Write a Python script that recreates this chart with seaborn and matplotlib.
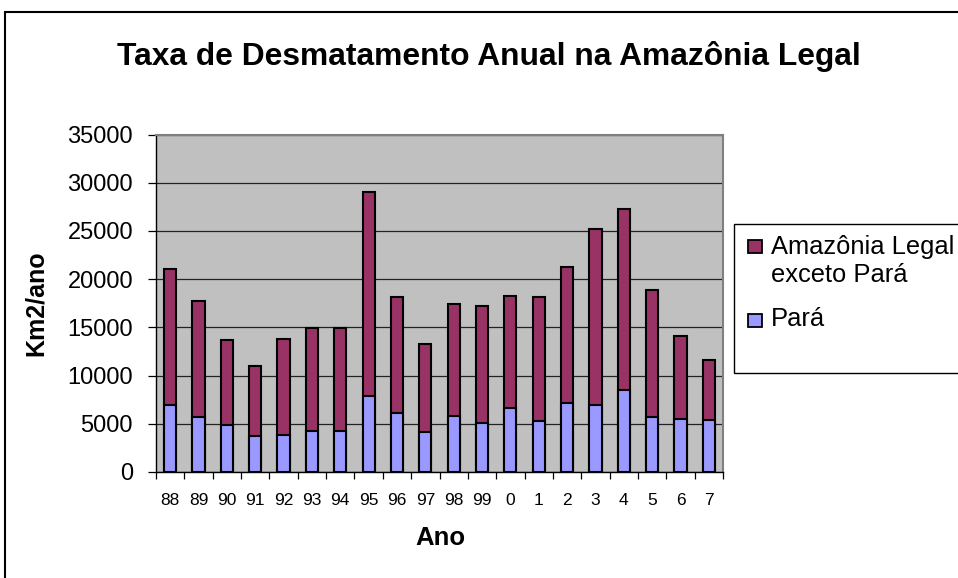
import numpy as np
import pandas as pd
import matplotlib
matplotlib.use("Agg")
import matplotlib.pyplot as plt
from matplotlib.patches import Rectangle
from matplotlib.ticker import FixedLocator, NullFormatter, FixedFormatter
import seaborn as sns

# ---- data (km2/ano) ----
anos = ["88", "89", "90", "91", "92", "93", "94", "95", "96", "97",
        "98", "99", "0", "1", "2", "3", "4", "5", "6", "7"]
para = [6990, 5750, 4890, 3780, 3790, 4280, 4280, 7850, 6140, 4140,
        5830, 5110, 6670, 5240, 7200, 7000, 8470, 5700, 5540, 5360]
resto = [14060, 12020, 8840, 7250, 10000, 10620, 10620, 21210, 12020, 9090,
         11550, 12150, 11560, 12930, 14060, 18240, 18800, 13140, 8530, 6220]
serie_resto = "Amazônia Legal\nexceto Pará"
serie_para = "Pará"
titulo = "Taxa de Desmatamento Anual na Amazônia Legal"
yticks = [0, 5000, 10000, 15000, 20000, 25000, 30000, 35000]

C_RESTO = "#993366"
C_PARA = "#9999FF"
C_BG = "#C0C0C0"

sns.set_theme(style="white")
plt.rcParams["font.family"] = ["Liberation Sans", "DejaVu Sans"]
plt.rcParams["text.color"] = "black"
plt.rcParams["axes.labelcolor"] = "black"
plt.rcParams["xtick.color"] = "black"
plt.rcParams["ytick.color"] = "black"

df = pd.DataFrame({"Ano": anos, "Para": para, "Resto": resto})
df["Total"] = df["Para"] + df["Resto"]

W, H = 958, 578
fig = plt.figure(figsize=(W / 100, H / 100), dpi=100)
L, R, T, B = 156, 723, 134.5, 472
ax = fig.add_axes([L / W, 1 - B / H, (R - L) / W, (B - T) / H])
ax.set_facecolor(C_BG)

bw = 0.43
sns.barplot(data=df, x="Ano", y="Total", order=anos, color=C_RESTO,
            width=bw, edgecolor="black", linewidth=1.5, saturation=1,
            ax=ax, zorder=3)
sns.barplot(data=df, x="Ano", y="Para", order=anos, color=C_PARA,
            width=bw, edgecolor="black", linewidth=1.5, saturation=1,
            ax=ax, zorder=4)

ax.set_xlim(-0.5, len(anos) - 0.5)
ax.set_ylim(0, 35000)
ax.set_yticks(yticks)
ax.set_yticklabels([str(v) for v in yticks], fontsize=17)
ax.yaxis.grid(True, color="#222222", linewidth=0.9, zorder=1)
ax.set_axisbelow(True)

# x: ticks at category boundaries, labels at centers
ax.xaxis.set_major_locator(FixedLocator(np.arange(-0.5, len(anos), 1.0)))
ax.xaxis.set_major_formatter(NullFormatter())
ax.xaxis.set_minor_locator(FixedLocator(np.arange(len(anos))))
ax.xaxis.set_minor_formatter(FixedFormatter(anos))
ax.tick_params(axis="x", which="major", direction="out", length=5, width=0.9,
               color="black", bottom=True)
ax.tick_params(axis="x", which="minor", length=0, labelsize=12.5, pad=15,
               bottom=True, labelcolor="black")
ax.tick_params(axis="y", direction="out", length=5.5, width=0.9,
               color="black", left=True, pad=11, labelcolor="black")

for s in ["left", "bottom"]:
    ax.spines[s].set_color("black")
    ax.spines[s].set_linewidth(1.0)
for s in ["top", "right"]:
    ax.spines[s].set_color("#808080")
    ax.spines[s].set_linewidth(1.5)

ax.set_xlabel("Ano", fontsize=18.5, fontweight="bold", color="black")
ax.set_ylabel("Km2/ano", fontsize=18, fontweight="bold", color="black")
ax.xaxis.set_label_coords((440 - L) / (R - L), (B - 526) / (B - T))
ax.yaxis.set_label_coords((48 - L) / (R - L), 0.5)

fig.text(489 / W, 1 - 56 / H, titulo, ha="center", va="center",
         fontsize=22.9, fontweight="bold", color="black")

# chart frame
fig.add_artist(Rectangle((5 / W, -0.1), 1.2, 1 - 11.5 / H + 0.1,
                         transform=fig.transFigure, fill=False,
                         edgecolor="black", linewidth=1.5))

# legend
fig.add_artist(Rectangle((734 / W, 1 - 373 / H), 0.3, (373 - 224) / H,
                         transform=fig.transFigure, facecolor="white",
                         edgecolor="black", linewidth=1.0))
for (cy, col) in [(246.5, C_RESTO), (320, C_PARA)]:
    fig.add_artist(Rectangle((748 / W, 1 - (cy + 6.5) / H), 14 / W, 13 / H,
                             transform=fig.transFigure, facecolor=col,
                             edgecolor="black", linewidth=1.3))
fig.text(771 / W, 1 - 261 / H, serie_resto, ha="left", va="center",
         fontsize=18.4, linespacing=1.2, color="black")
fig.text(771 / W, 1 - 319 / H, serie_para, ha="left", va="center",
         fontsize=18.4, color="black")

fig.savefig("out.png", dpi=100)
